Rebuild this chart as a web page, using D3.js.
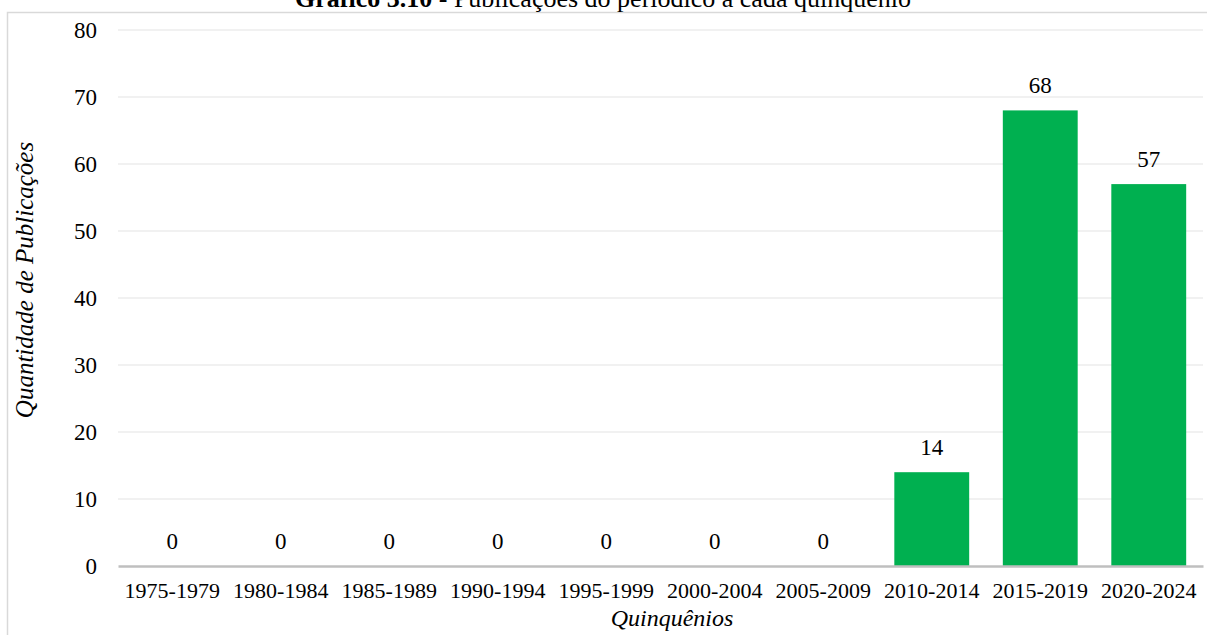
<!DOCTYPE html>
<html>
<head>
<meta charset="utf-8">
<script src="https://cdn.jsdelivr.net/npm/d3@7"></script>
<style>
  html, body { margin: 0; padding: 0; background: #fff; }
  svg { display: block; font-family: "Liberation Serif", "Times New Roman", serif; }
</style>
</head>
<body>
<svg id="chart" width="1207" height="635"></svg>
<script>
// Publications per five-year period
const periods = ["1975-1979","1980-1984","1985-1989","1990-1994","1995-1999",
                 "2000-2004","2005-2009","2010-2014","2015-2019","2020-2024"];
const publications = [0, 0, 0, 0, 0, 0, 0, 14, 68, 57];
const yTicks = [0, 10, 20, 30, 40, 50, 60, 70, 80];

const svg = d3.select("#chart");
const W = 1207, H = 635;
const m = { left: 118, right: 4, top: 30, bottom: 69 };

// outer chart frame
svg.append("rect")
  .attr("x", 7.5).attr("y", 12.5)
  .attr("width", W + 10).attr("height", H + 10)
  .attr("fill", "none").attr("stroke", "#d9d9d9").attr("stroke-width", 1.5);

const x = d3.scaleBand().domain(periods)
  .range([m.left, W - m.right]).paddingInner(0.31).paddingOuter(0.155);
const y = d3.scaleLinear().domain([0, 80]).range([H - m.bottom, m.top]);

// gridlines
svg.append("g").selectAll("line").data(yTicks.filter(d => d > 0)).join("line")
  .attr("x1", m.left).attr("x2", W - m.right)
  .attr("y1", d => y(d)).attr("y2", d => y(d))
  .attr("stroke", "#ececec").attr("stroke-width", 1.5);

// y axis labels
const yAxis = d3.axisLeft(y).tickValues(yTicks).tickSize(0).tickPadding(0);
svg.append("g").attr("transform", `translate(${m.left - 21},0)`).call(yAxis)
  .call(g => g.select(".domain").remove())
  .selectAll("text").attr("font-size", 23).attr("fill", "#000")
  .attr("font-family", "Liberation Serif, serif");

// bars
svg.append("g").selectAll("rect").data(publications).join("rect")
  .attr("x", (d, i) => x(periods[i]))
  .attr("width", x.bandwidth())
  .attr("y", d => y(d))
  .attr("height", d => y(0) - y(d))
  .attr("fill", "#00b050");

// value labels
svg.append("g").selectAll("text").data(publications).join("text")
  .attr("x", (d, i) => x(periods[i]) + x.bandwidth() / 2)
  .attr("y", d => y(d) - 17)
  .attr("text-anchor", "middle")
  .attr("font-size", 23).attr("fill", "#000")
  .text(d => d);

// x axis
const xAxis = d3.axisBottom(x).tickSize(0).tickPadding(16);
svg.append("g").attr("transform", `translate(0,${y(0)})`).call(xAxis)
  .call(g => g.select(".domain").attr("stroke", "#bfbfbf").attr("stroke-width", 2.5))
  .selectAll("text").attr("font-size", 22).attr("fill", "#000")
  .attr("font-family", "Liberation Serif, serif");

// axis titles
svg.append("text")
  .attr("x", 672).attr("y", 626)
  .attr("text-anchor", "middle").attr("font-style", "italic")
  .attr("font-size", 24).text("Quinquênios");

svg.append("text")
  .attr("transform", "translate(33,280) rotate(-90)")
  .attr("text-anchor", "middle").attr("font-style", "italic")
  .attr("font-size", 25).text("Quantidade de Publicações");

// chart title
const title = svg.append("text")
  .attr("x", 603).attr("y", 7)
  .attr("text-anchor", "middle").attr("font-size", 26);
title.append("tspan").attr("font-weight", "bold").text("Gráfico 3.10");
title.append("tspan").text(" - Publicações do periódico a cada quinquênio");
</script>
</body>
</html>
